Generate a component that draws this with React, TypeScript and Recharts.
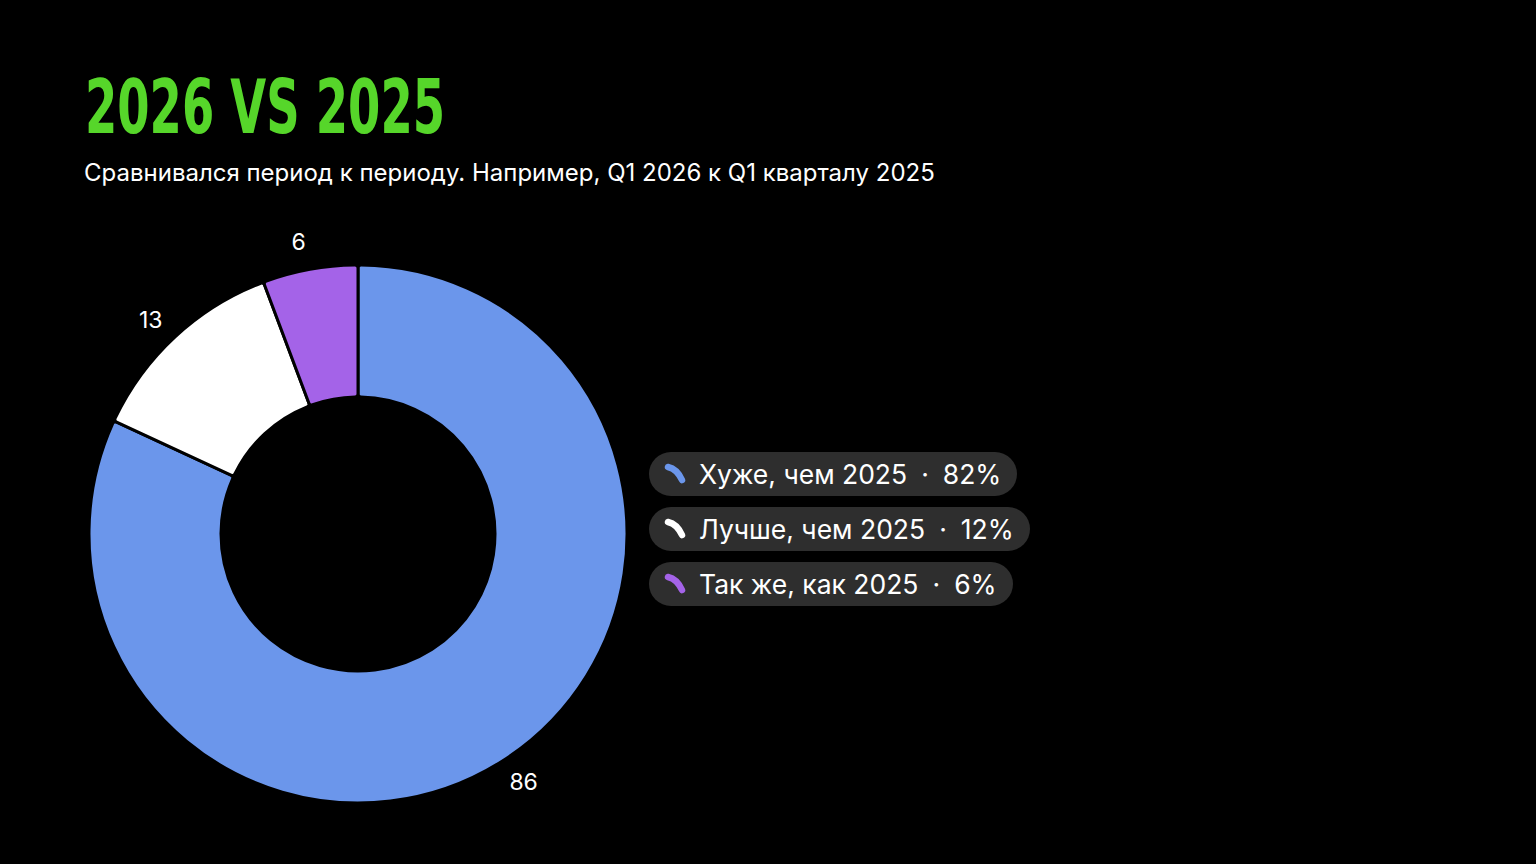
import React from "react";
import { PieChart, Pie, Cell, Legend } from "recharts";

const categories = ["Хуже, чем 2025", "Лучше, чем 2025", "Так же, как 2025"];
const values = [86, 13, 6];
const percentLabels = ["82%", "12%", "6%"];
const colors = ["#6b96eb", "#ffffff", "#a463e8"];

const data = categories.map((name, i) => ({ name, value: values[i], pct: percentLabels[i], color: colors[i] }));

const FONT = "Inter, 'Noto Sans', sans-serif";
const RAD = Math.PI / 180;

const renderLabel = (props: any) => {
  const { cx, cy, midAngle, value } = props;
  const r = 298;
  const a = midAngle + 1.2;
  const x = cx + r * Math.cos(-a * RAD);
  const y = cy + r * Math.sin(-a * RAD);
  return (
    <text x={x} y={y} fill="#ffffff" fontSize={23} fontFamily={FONT} textAnchor="middle" dominantBaseline="central">
      {value}
    </text>
  );
};

const LegendIcon = ({ color }: { color: string }) => (
  <svg width={24} height={24} viewBox="0 0 24 24" style={{ display: "block" }}>
    <path d="M5 5 Q14 7 19 18" fill="none" stroke={color} strokeWidth={6.5} strokeLinecap="round" />
  </svg>
);

const renderLegend = () => (
  <div style={{ display: "flex", flexDirection: "column", alignItems: "flex-start", gap: 11 }}>
    {data.map((d) => (
      <div
        key={d.name}
        style={{
          display: "flex",
          alignItems: "center",
          height: 44,
          boxSizing: "border-box",
          padding: "0 16px 0 14px",
          borderRadius: 22,
          background: "#2e2e2e",
          color: "#ffffff",
          fontFamily: FONT,
          fontSize: 26.5,
          whiteSpace: "nowrap",
        }}
      >
        <LegendIcon color={d.color} />
        <span style={{ marginLeft: 12 }}>{d.name}</span>
        <span style={{ margin: "0 14px" }}>·</span>
        <span>{d.pct}</span>
      </div>
    ))}
  </div>
);

export default function App() {
  return (
    <div style={{ position: "absolute", left: 0, top: 0, width: 1536, height: 864, background: "#000000", overflow: "hidden" }}>
      <svg width={600} height={150} style={{ position: "absolute", left: 0, top: 0 }}>
        <text
          x={85}
          y={133}
          fill="#56d62a"
          fontSize={74}
          fontWeight={700}
          fontFamily="'DejaVu Sans Condensed', 'Liberation Sans Narrow', 'Roboto', sans-serif"
          textLength={360}
          lengthAdjust="spacingAndGlyphs"
        >
          2026 VS 2025
        </text>
      </svg>
      <div
        style={{
          position: "absolute",
          left: 84,
          top: 158,
          color: "#ffffff",
          fontFamily: FONT,
          fontSize: 24,
          whiteSpace: "nowrap",
        }}
      >
        Сравнивался период к периоду. Например, Q1 2026 к Q1 кварталу 2025
      </div>
      <div style={{ position: "absolute", left: 0, top: 0 }}>
        <PieChart width={1536} height={864} margin={{ top: 0, right: 0, bottom: 0, left: 0 }}>
          <Pie
            data={data}
            dataKey="value"
            nameKey="name"
            cx={358}
            cy={534}
            innerRadius={137}
            outerRadius={269}
            startAngle={90}
            endAngle={-270}
            stroke="#000000"
            strokeWidth={3}
            cornerRadius={3}
            label={renderLabel}
            labelLine={false}
            isAnimationActive={false}
          >
            {data.map((d) => (
              <Cell key={d.name} fill={d.color} />
            ))}
          </Pie>
          <Legend
            content={renderLegend}
            layout="vertical"
            wrapperStyle={{ position: "absolute", left: 649, top: 452, width: "auto" }}
          />
        </PieChart>
      </div>
    </div>
  );
}
